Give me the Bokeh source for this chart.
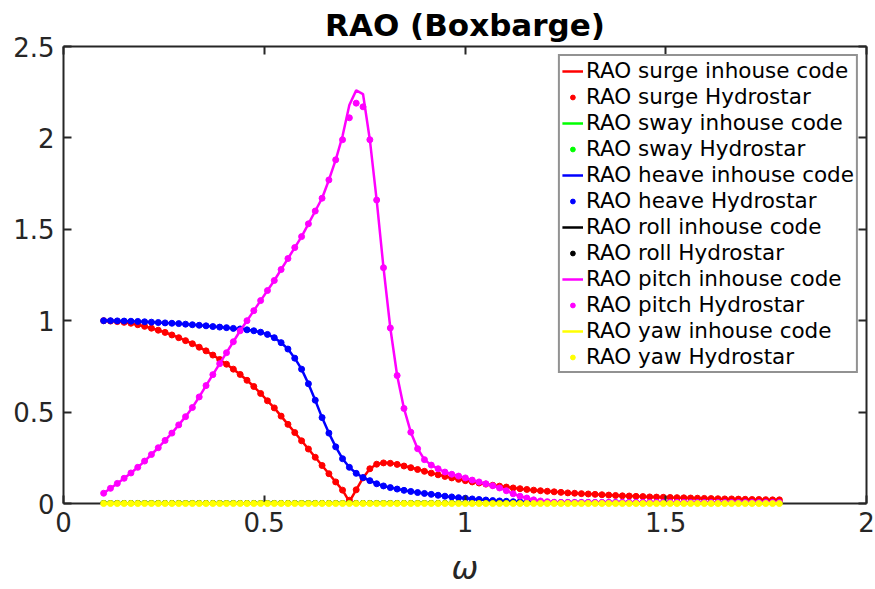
from bokeh.plotting import figure
from bokeh.models import Range1d, FixedTicker, LinearAxis, Legend, LegendItem
from bokeh.embed import file_html
from bokeh.resources import INLINE

# ---------------- data ----------------
omega = [0.100, 0.117, 0.134, 0.151, 0.168, 0.185, 0.202, 0.219, 0.236, 0.253,
         0.270, 0.287, 0.304, 0.321, 0.338, 0.355, 0.372, 0.389, 0.406, 0.423,
         0.440, 0.457, 0.474, 0.491, 0.508, 0.525, 0.542, 0.559, 0.576, 0.593,
         0.610, 0.627, 0.644, 0.661, 0.678, 0.695, 0.712, 0.729, 0.746, 0.763,
         0.780, 0.797, 0.814, 0.831, 0.848, 0.865, 0.882, 0.899, 0.916, 0.933,
         0.950, 0.967, 0.984, 1.001, 1.018, 1.035, 1.052, 1.069, 1.086, 1.103,
         1.120, 1.137, 1.154, 1.171, 1.188, 1.205, 1.222, 1.239, 1.256, 1.273,
         1.290, 1.307, 1.324, 1.341, 1.358, 1.375, 1.392, 1.409, 1.426, 1.443,
         1.460, 1.477, 1.494, 1.511, 1.528, 1.545, 1.562, 1.579, 1.596, 1.613,
         1.630, 1.647, 1.664, 1.681, 1.698, 1.715, 1.732, 1.749, 1.766, 1.783]

surge_hs = [1.000, 0.998, 0.995, 0.991, 0.986, 0.978, 0.969, 0.959, 0.948, 0.936,
            0.922, 0.907, 0.891, 0.874, 0.855, 0.835, 0.812, 0.788, 0.762, 0.735,
            0.706, 0.674, 0.640, 0.602, 0.562, 0.523, 0.478, 0.433, 0.388, 0.343,
            0.298, 0.253, 0.208, 0.163, 0.118, 0.073, 0.018, 0.075, 0.140, 0.190,
            0.215, 0.222, 0.220, 0.214, 0.205, 0.196, 0.186, 0.176, 0.166, 0.157,
            0.148, 0.140, 0.132, 0.125, 0.118, 0.112, 0.106, 0.100, 0.095, 0.090,
            0.085, 0.081, 0.077, 0.073, 0.070, 0.067, 0.064, 0.061, 0.058, 0.056,
            0.054, 0.052, 0.050, 0.048, 0.046, 0.044, 0.042, 0.041, 0.039, 0.038,
            0.036, 0.035, 0.034, 0.033, 0.032, 0.031, 0.030, 0.029, 0.028, 0.027,
            0.026, 0.025, 0.025, 0.024, 0.023, 0.022, 0.022, 0.021, 0.020, 0.020]

surge_ih = [1.000, 0.998, 0.995, 0.991, 0.986, 0.978, 0.969, 0.959, 0.948, 0.936,
            0.922, 0.907, 0.891, 0.874, 0.855, 0.835, 0.812, 0.788, 0.762, 0.735,
            0.706, 0.674, 0.640, 0.602, 0.562, 0.523, 0.478, 0.433, 0.388, 0.343,
            0.298, 0.253, 0.208, 0.163, 0.118, 0.073, 0.010, 0.075, 0.140, 0.190,
            0.215, 0.223, 0.221, 0.215, 0.206, 0.197, 0.187, 0.177, 0.167, 0.158,
            0.149, 0.141, 0.133, 0.126, 0.119, 0.112, 0.106, 0.100, 0.095, 0.090,
            0.085, 0.081, 0.077, 0.073, 0.070, 0.067, 0.064, 0.061, 0.058, 0.056,
            0.054, 0.052, 0.050, 0.048, 0.046, 0.044, 0.042, 0.041, 0.039, 0.038,
            0.036, 0.035, 0.034, 0.033, 0.032, 0.031, 0.030, 0.029, 0.028, 0.027,
            0.026, 0.025, 0.025, 0.024, 0.023, 0.022, 0.022, 0.021, 0.020, 0.020]

heave_hs = [1.000, 1.000, 0.999, 0.998, 0.997, 0.996, 0.994, 0.992, 0.990, 0.988,
            0.986, 0.984, 0.981, 0.978, 0.975, 0.972, 0.968, 0.965, 0.962, 0.958,
            0.955, 0.950, 0.945, 0.937, 0.925, 0.907, 0.880, 0.845, 0.795, 0.735,
            0.655, 0.565, 0.470, 0.385, 0.310, 0.245, 0.198, 0.165, 0.142, 0.125,
            0.108, 0.096, 0.087, 0.079, 0.072, 0.066, 0.060, 0.055, 0.050, 0.045,
            0.040, 0.036, 0.032, 0.029, 0.025, 0.022, 0.019, 0.016, 0.014, 0.012,
            0.010, 0.009, 0.008, 0.007, 0.006, 0.005, 0.005, 0.005, 0.005, 0.005,
            0.005, 0.005, 0.005, 0.005, 0.005, 0.005, 0.005, 0.005, 0.005, 0.005,
            0.004, 0.004, 0.004, 0.004, 0.004, 0.004, 0.004, 0.004, 0.004, 0.004,
            0.004, 0.004, 0.004, 0.004, 0.004, 0.004, 0.004, 0.004, 0.004, 0.004]

heave_ih = heave_hs

pitch_hs = [0.056, 0.083, 0.110, 0.138, 0.167, 0.198, 0.232, 0.268, 0.305, 0.345,
            0.385, 0.430, 0.475, 0.525, 0.583, 0.645, 0.705, 0.765, 0.825, 0.885,
            0.945, 1.000, 1.055, 1.110, 1.165, 1.220, 1.280, 1.340, 1.400, 1.460,
            1.530, 1.600, 1.670, 1.770, 1.880, 1.990, 2.110, 2.190, 2.170, 1.990,
            1.660, 1.290, 0.960, 0.700, 0.520, 0.390, 0.300, 0.240, 0.210, 0.190,
            0.172, 0.160, 0.150, 0.140, 0.128, 0.118, 0.108, 0.097, 0.085, 0.070,
            0.053, 0.040, 0.030, 0.020, 0.014, 0.010, 0.007, 0.006, 0.006, 0.006,
            0.006, 0.006, 0.006, 0.006, 0.006, 0.006, 0.006, 0.006, 0.006, 0.006,
            0.006, 0.006, 0.006, 0.006, 0.006, 0.006, 0.005, 0.005, 0.005, 0.005,
            0.005, 0.005, 0.005, 0.005, 0.005, 0.005, 0.005, 0.005, 0.005, 0.005]

pitch_ih = [0.056, 0.083, 0.110, 0.138, 0.167, 0.198, 0.232, 0.268, 0.305, 0.345,
            0.385, 0.430, 0.475, 0.525, 0.583, 0.645, 0.705, 0.765, 0.825, 0.885,
            0.945, 1.000, 1.055, 1.110, 1.165, 1.220, 1.280, 1.340, 1.400, 1.460,
            1.530, 1.600, 1.670, 1.770, 1.880, 2.010, 2.180, 2.260, 2.240, 1.990,
            1.660, 1.290, 0.960, 0.700, 0.520, 0.390, 0.300, 0.240, 0.210, 0.190,
            0.172, 0.160, 0.150, 0.140, 0.128, 0.118, 0.108, 0.097, 0.085, 0.070,
            0.053, 0.040, 0.030, 0.020, 0.014, 0.010, 0.007, 0.006, 0.006, 0.006,
            0.006, 0.006, 0.006, 0.006, 0.006, 0.006, 0.006, 0.006, 0.006, 0.006,
            0.006, 0.006, 0.006, 0.006, 0.006, 0.006, 0.005, 0.005, 0.005, 0.005,
            0.005, 0.005, 0.005, 0.005, 0.005, 0.005, 0.005, 0.005, 0.005, 0.005]

sway_ih = [0.0] * 100
sway_hs = [0.0] * 100
roll_ih = [0.0] * 100
roll_hs = [0.0] * 100
yaw_ih = [0.0] * 100
yaw_hs = [0.0] * 100

x_ticks = [0, 0.5, 1, 1.5, 2]
y_ticks = [0, 0.5, 1, 1.5, 2, 2.5]
x_tick_labels = {0: "0", 0.5: "0.5", 1: "1", 1.5: "1.5", 2: "2"}
y_tick_labels = {0: "0", 0.5: "0.5", 1: "1", 1.5: "1.5", 2: "2", 2.5: "2.5"}

series = [
    ("surge", "#ff0000", surge_ih, surge_hs),
    ("sway", "#00ff00", sway_ih, sway_hs),
    ("heave", "#0000ff", heave_ih, heave_hs),
    ("roll", "#000000", roll_ih, roll_hs),
    ("pitch", "#ff00ff", pitch_ih, pitch_hs),
    ("yaw", "#ffff00", yaw_ih, yaw_hs),
]

# ---------------- figure ----------------
AX = "#262626"
FONT = "DejaVu Sans"

p = figure(width=875, height=589, output_backend="svg", toolbar_location=None,
           x_range=Range1d(0, 2), y_range=Range1d(0, 2.5),
           min_border_left=63, min_border_right=9, min_border_top=46,
           min_border_bottom=86, x_axis_location=None, y_axis_location=None)
p.background_fill_color = "white"
p.border_fill_color = "white"
p.outline_line_color = None
p.xgrid.visible = False
p.ygrid.visible = False

p.title.text = "RAO (Boxbarge)"
p.title.align = "center"
p.title.offset = 5
p.title.text_font = FONT
p.title.text_font_size = "31px"
p.title.text_font_style = "bold"
p.title.text_color = "#000000"
p.title.standoff = 8


def style_axis(ax, ticks, overrides):
    ax.ticker = FixedTicker(ticks=ticks)
    ax.major_label_overrides = overrides
    ax.axis_line_color = AX
    ax.axis_line_width = 2
    ax.major_tick_line_color = AX
    ax.major_tick_line_width = 2
    ax.major_tick_in = 8
    ax.major_tick_out = 0
    ax.minor_tick_line_color = None
    ax.major_label_text_font = FONT
    ax.major_label_text_font_size = "26px"
    ax.major_label_text_color = AX


def mirror_axis(ax, ticks):
    # ticks only (drawn as minor ticks so no labels are produced)
    ax.ticker = FixedTicker(ticks=[], minor_ticks=ticks)
    ax.axis_line_color = AX
    ax.axis_line_width = 2
    ax.major_tick_line_color = None
    ax.minor_tick_line_color = AX
    ax.minor_tick_line_width = 2
    ax.minor_tick_in = 8
    ax.minor_tick_out = 0
    ax.major_label_standoff = 0


xb = LinearAxis()
style_axis(xb, x_ticks, x_tick_labels)
xb.major_label_standoff = 8
xb.axis_label = "ω"
xb.axis_label_text_font = FONT
xb.axis_label_text_font_style = "italic"
xb.axis_label_text_font_size = "32px"
xb.axis_label_text_color = AX
xb.axis_label_standoff = 14
p.add_layout(xb, "below")

yl = LinearAxis()
style_axis(yl, y_ticks, y_tick_labels)
yl.major_label_standoff = 9
p.add_layout(yl, "left")

xt = LinearAxis()
mirror_axis(xt, x_ticks)
p.add_layout(xt, "above")

yr = LinearAxis()
mirror_axis(yr, y_ticks)
p.add_layout(yr, "right")

items = []
for name, color, ih, hs in series:
    r1 = p.line(omega, ih, line_color=color, line_width=2.5)
    r2 = p.scatter(omega, hs, size=6, fill_color=color, line_color=color,
                   marker="circle")
    if name == "yaw":
        # drawn over the bottom axis line, as in the reference
        r1.level = "overlay"
        r2.level = "overlay"
    items.append(LegendItem(label="RAO %s inhouse code" % name, renderers=[r1]))
    items.append(LegendItem(label="RAO %s Hydrostar" % name, renderers=[r2]))

legend = Legend(items=items, location="top_right")
legend.margin = 8
legend.padding = 2
legend.spacing = 1
legend.label_height = 25
legend.glyph_height = 12
legend.glyph_width = 21
legend.label_standoff = 3
legend.label_text_font = FONT
legend.label_text_font_size = "21.5px"
legend.label_text_color = "#000000"
legend.border_line_color = AX
legend.border_line_width = 2
legend.background_fill_color = "white"
legend.background_fill_alpha = 1
p.add_layout(legend, "center")

open("out.html", "w").write(file_html(p, INLINE))
